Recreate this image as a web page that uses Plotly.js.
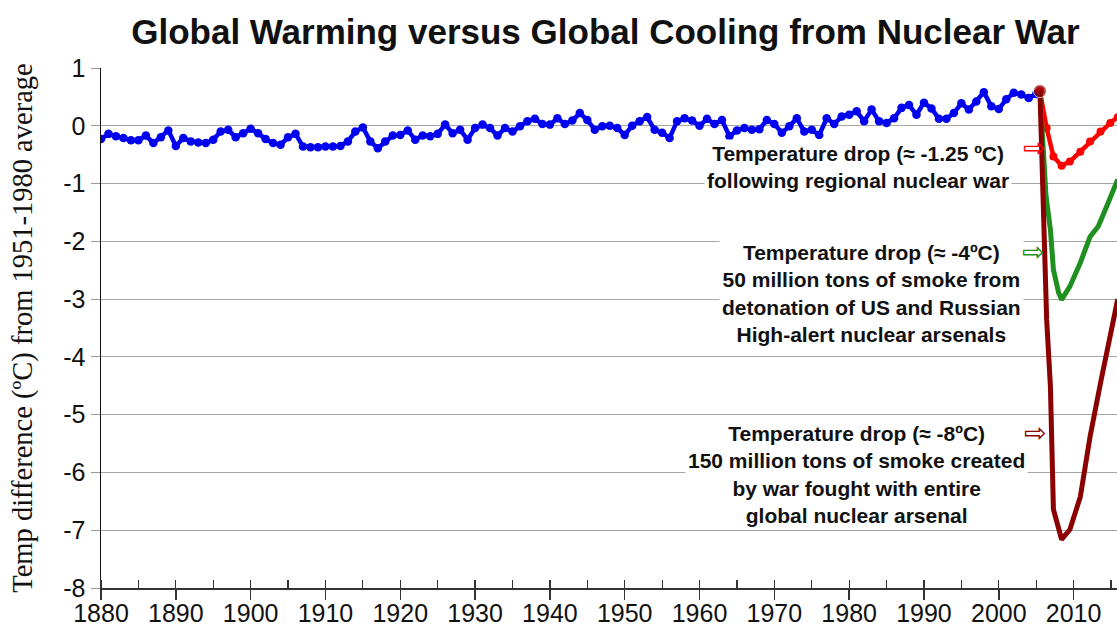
<!DOCTYPE html>
<html>
<head>
<meta charset="utf-8">
<script src="https://cdn.plot.ly/plotly-3.0.1.min.js"></script>
<style>html,body{margin:0;padding:0;background:#fff;}#chart{width:1117px;height:631px;}</style>
</head>
<body>
<div id="chart"></div>
<script>
// Observed global temperature anomaly (ºC vs 1951-1980), 1880-2005
const obsYears = [];
for (let y = 1880; y <= 2005; y++) obsYears.push(y);
const obsTemps = [
  -0.23,-0.14,-0.18,-0.21,-0.25,-0.25,-0.17,-0.30,-0.20,-0.08,
  -0.35,-0.21,-0.27,-0.29,-0.30,-0.24,-0.10,-0.07,-0.20,-0.13,
  -0.05,-0.13,-0.23,-0.30,-0.33,-0.20,-0.14,-0.36,-0.37,-0.37,
  -0.36,-0.36,-0.35,-0.27,-0.10,-0.03,-0.27,-0.39,-0.27,-0.17,
  -0.16,-0.08,-0.24,-0.17,-0.18,-0.14, 0.02,-0.13,-0.07,-0.24,
  -0.04, 0.02,-0.04,-0.17,-0.04,-0.10,-0.01, 0.08, 0.12, 0.03,
   0.02, 0.13, 0.03, 0.09, 0.22, 0.10,-0.07,-0.01, 0.00,-0.04,
  -0.16, 0.00, 0.08, 0.15,-0.07,-0.12,-0.21, 0.08, 0.13, 0.09,
   0.00, 0.12, 0.03, 0.10,-0.18,-0.08,-0.04,-0.07,-0.06, 0.10,
   0.03,-0.12,-0.01, 0.13,-0.10,-0.07,-0.16, 0.13, 0.03, 0.16,
   0.19, 0.25, 0.08, 0.28, 0.08, 0.05, 0.13, 0.31, 0.36, 0.19,
   0.40, 0.30, 0.12, 0.12, 0.22, 0.39, 0.28, 0.42, 0.58, 0.34,
   0.29, 0.46, 0.57, 0.54, 0.48, 0.55
];

// Regional nuclear war scenario
const regionalYears = [2005.5, 2006.4, 2007.3, 2008.4, 2009.5, 2010.9, 2012.2, 2013.6, 2014.9, 2015.9];
const regionalTemps = [0.60, -0.04, -0.53, -0.69, -0.62, -0.45, -0.27, -0.10, 0.05, 0.15];

// US + Russian high-alert arsenals (50 Mt smoke)
const usRussiaYears = [2005.5, 2006.3, 2006.9, 2007.3, 2008.0, 2008.4, 2009.5, 2010.9, 2012.2, 2013.3, 2014.4, 2015.9];
const usRussiaTemps = [0.60, -1.20, -1.80, -2.49, -2.89, -3.01, -2.78, -2.37, -1.92, -1.74, -1.40, -0.93];

// Entire global arsenal (150 Mt smoke)
const globalYears = [2005.5, 2006.4, 2006.9, 2007.1, 2007.3, 2008.4, 2009.5, 2010.9, 2012.2, 2013.6, 2015.3, 2015.9];
const globalTemps = [0.60, -3.36, -4.51, -5.66, -6.64, -7.16, -6.99, -6.42, -5.38, -4.45, -3.36, -3.00];

const yTickVals = [1, 0, -1, -2, -3, -4, -5, -6, -7, -8];
const yTickText = ["1", "0", "-1", "-2", "-3", "-4", "-5", "-6", "-7", "-8"];
const xTickVals = [1880,1890,1900,1910,1920,1930,1940,1950,1960,1970,1980,1990,2000,2010];

const labels = {
  title: "Global Warming versus Global Cooling from Nuclear War",
  yTitle: "Temp difference (ºC) from 1951-1980 average",
  regional: "Temperature drop (≈ -1.25 ºC)<br>following regional nuclear war",
  usRussia: "Temperature drop (≈ -4ºC)<br>50 million tons of smoke from<br>detonation of US and Russian<br>High-alert nuclear arsenals",
  global: "Temperature drop (≈ -8ºC)<br>150 million tons of smoke created<br>by war fought with entire<br>global nuclear arsenal"
};

const sans = "Arial, 'Liberation Sans', sans-serif";
const serif = "'Times New Roman', 'Liberation Serif', serif";

const traces = [
  {x: obsYears, y: obsTemps, mode: 'lines+markers', line: {color: '#0000f0', width: 4.5}, marker: {color: '#0000f0', size: 8.5}},
  {x: regionalYears, y: regionalTemps, mode: 'lines+markers', line: {color: '#ff0000', width: 4.5}, marker: {color: '#ff0000', size: 8}},
  {x: usRussiaYears, y: usRussiaTemps, mode: 'lines', line: {color: '#1f8f1f', width: 5}},
  {x: globalYears, y: globalTemps, mode: 'lines+markers', line: {color: '#8b0000', width: 5},
   marker: {color: '#8b0000', size: globalYears.map((v, i) => i === 0 ? 13 : 0)}}
];

const textAnn = (txt, x, y) => ({
  text: txt, x: x, y: y, xref: 'x', yref: 'y', showarrow: false, align: 'center',
  bgcolor: '#ffffff', borderpad: 2,
  font: {family: sans, size: 21, color: '#111', weight: 'bold'}
});
const arrowAnn = (x, y, color) => ({
  text: '⇨', x: x, y: y, xref: 'x', yref: 'y', showarrow: false,
  font: {family: "'DejaVu Sans', sans-serif", size: 27, color: color}
});

const layout = {
  width: 1117, height: 631,
  margin: {l: 101, r: 0, t: 68, b: 43},
  paper_bgcolor: '#fff', plot_bgcolor: '#fff',
  showlegend: false,
  title: {text: labels.title, font: {family: sans, size: 35, color: '#111', weight: 'bold'},
          xref: 'container', x: 0.542, xanchor: 'center', yref: 'container', y: 0.95, yanchor: 'middle'},
  xaxis: {
    range: [1880, 2015.8], tickvals: xTickVals, ticks: 'outside', ticklen: 10, tickcolor: '#333', tickwidth: 1.5,
    showline: true, linecolor: '#333', linewidth: 1.5, showgrid: false, zeroline: false,
    tickfont: {family: sans, size: 25, color: '#111'}, ticklabelstandoff: -8,
    minor: {dtick: 5, tick0: 1880, ticks: 'inside', ticklen: 8, tickcolor: '#333', tickwidth: 1.2, showgrid: false}
  },
  yaxis: {
    range: [-8, 1], tickvals: yTickVals, ticktext: yTickText, ticks: 'outside', ticklen: 9, tickcolor: '#999',
    showline: true, linecolor: '#111', linewidth: 1.5, showgrid: true, gridcolor: '#a6a6a6', gridwidth: 1,
    zeroline: false, tickfont: {family: sans, size: 25, color: '#111'},
    title: {text: labels.yTitle, font: {family: serif, size: 28.5, color: '#111'}, standoff: 22}
  },
  annotations: [
    textAnn(labels.regional, 1981.2, -0.71),
    textAnn(labels.usRussia, 1983.0, -2.9),
    textAnn(labels.global, 1981.0, -6.04),
    arrowAnn(2004.8, -0.38, '#ff0000'),
    arrowAnn(2004.7, -2.18, '#1f8f1f'),
    arrowAnn(2004.9, -5.3, '#8b0000')
  ]
};

Plotly.newPlot('chart', traces, layout, {displayModeBar: false, staticPlot: true});
</script>
</body>
</html>
